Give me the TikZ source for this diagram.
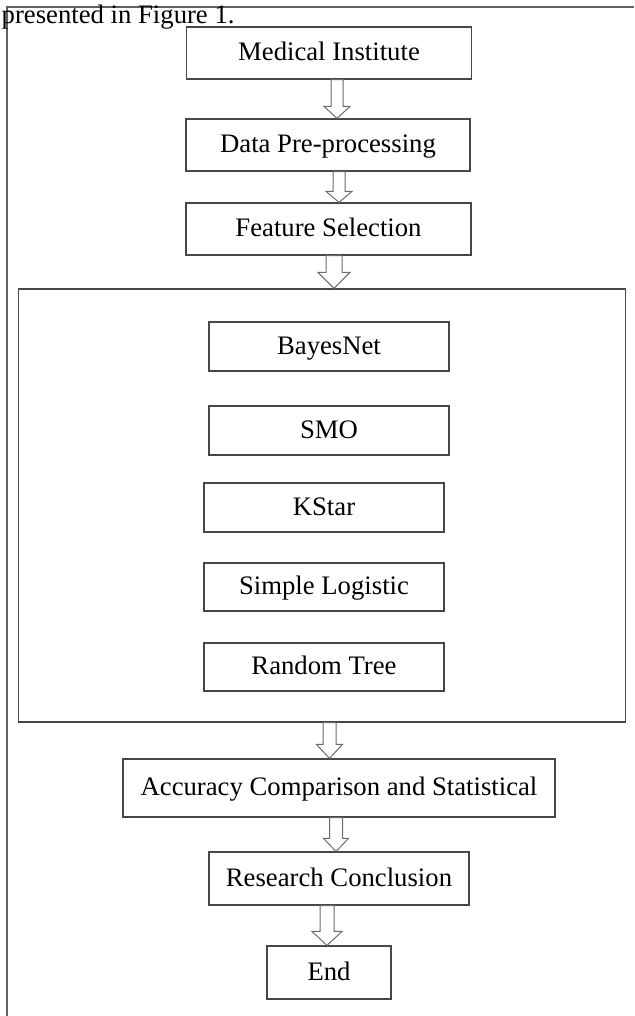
\documentclass[tikz,border=0pt]{standalone}
\usepackage{fontspec}
\setmainfont{Liberation Serif}
\usetikzlibrary{calc}
\definecolor{boxgray}{gray}{0.28}
\definecolor{arrowgray}{gray}{0.42}
\definecolor{framegray}{gray}{0.38}
\newcommand\labelfont{\fontsize{26.7}{32}\selectfont}
\tikzset{
  box/.style={draw=boxgray, line width=1.2pt, inner sep=0pt, font=\labelfont,
    text=black, text height=19pt, text depth=4pt},
  barrow/.style={draw=arrowgray, fill=white, line width=1pt, line join=miter},
}
% hollow block arrow from the bottom of #1 to the top of #2 at x = #3
% #4 half shaft width, #5 half head width, #6 head length
\newcommand\blockarrow[6]{%
  \draw[barrow] let \p1=(#1.south), \p2=(#2.north) in
    (#3pt-#4pt,\y1) -- (#3pt-#4pt,\y2+#6pt) -- (#3pt-#5pt,\y2+#6pt) -- (#3pt,\y2)
    -- (#3pt+#5pt,\y2+#6pt) -- (#3pt+#4pt,\y2+#6pt) -- (#3pt+#4pt,\y1) -- cycle;
}
\begin{document}
\begin{tikzpicture}[x=1pt, y=-1pt]
  \useasboundingbox (0,0) rectangle (634,1016);
  % page frame
  \coordinate (fbl) at (7,1016);
  \coordinate (ftl) at (7,7);
  \coordinate (ftr) at (634,7);
  \draw[framegray, line width=1.3pt] (fbl) -- (ftl) -- (ftr);
  \node[anchor=base west, inner sep=0pt, font=\labelfont] (cap) at (1.5,24) {presented in Figure 1.};

  % main flow
  \node[box, minimum width=285pt, minimum height=52pt] (med)  at (329,53)    {Medical Institute};
  \node[box, minimum width=284pt, minimum height=52pt] (pre)  at (328,145)   {Data Pre-processing};
  \node[box, minimum width=285pt, minimum height=52pt] (feat) at (328.5,229) {Feature Selection};

  % classifier group
  \node[box, minimum width=607pt, minimum height=433pt] (algo) at (321.7,505.5) {};
  \node[box, minimum width=240pt, minimum height=49pt] (bn)  at (329,346.5) {BayesNet};
  \node[box, minimum width=240pt, minimum height=49pt] (smo) at (329,430.5) {SMO};
  \node[box, minimum width=240pt, minimum height=49pt] (ks)  at (324,507.5) {KStar};
  \node[box, minimum width=240pt, minimum height=48pt] (sl)  at (324,587)   {Simple Logistic};
  \node[box, minimum width=240pt, minimum height=48pt] (rt)  at (324,667)   {Random Tree};

  \node[box, minimum width=432pt, minimum height=58pt] (acc) at (339,788)   {Accuracy Comparison and Statistical};
  \node[box, minimum width=260pt, minimum height=53pt] (res) at (339,878.5) {Research Conclusion};
  \node[box, minimum width=124pt, minimum height=53pt] (end) at (329,972.5) {End};

  % connectors
  \blockarrow{med}{pre}{337}{6}{13}{12}
  \blockarrow{pre}{feat}{339}{6}{13}{11}
  \blockarrow{feat}{algo}{334}{8}{16}{16}
  \blockarrow{algo}{acc}{329.5}{6.5}{13}{14}
  \blockarrow{acc}{res}{336}{6.5}{12.5}{13}
  \blockarrow{res}{end}{327}{7}{15}{14}
\end{tikzpicture}
\end{document}
